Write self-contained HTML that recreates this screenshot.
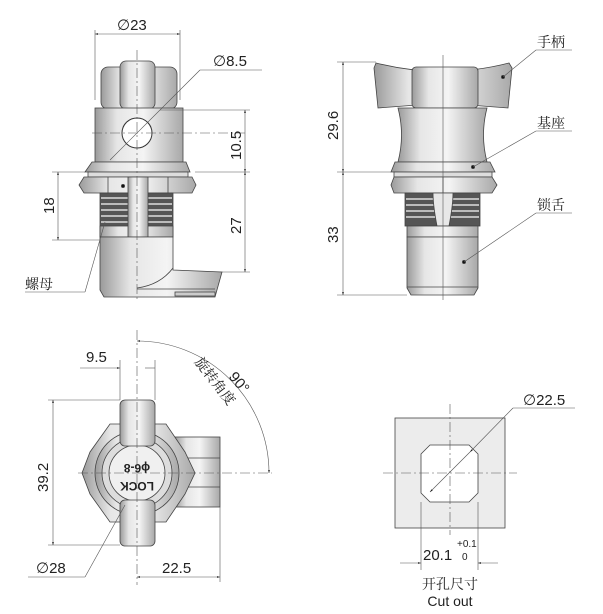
<!DOCTYPE html>
<html><head><meta charset="utf-8"><style>
html,body{margin:0;padding:0;background:#fff;}
svg{display:block;}
text{font-family:"Liberation Sans","DejaVu Sans","Noto Sans CJK SC",sans-serif;fill:#222;}
.cn{font-family:"Noto Serif CJK SC","Noto Sans CJK SC",serif;}
</style></head><body>
<svg width="603" height="614" viewBox="0 0 603 614" xmlns="http://www.w3.org/2000/svg">
<defs>
<linearGradient id="g" x1="0" x2="1" y1="0" y2="0">
<stop offset="0" stop-color="#9a9a9a"/><stop offset="0.25" stop-color="#e6e6e6"/><stop offset="0.55" stop-color="#f4f4f4"/><stop offset="1" stop-color="#a8a8a8"/>
</linearGradient>
<marker id="a" viewBox="0 0 10 10" refX="10" refY="5" markerWidth="7" markerHeight="5" orient="auto-start-reverse"><path d="M0,2 L10,5 L0,8z" fill="#222"/></marker>
</defs>
<g stroke="#444" stroke-width="0.8">
<!-- ===== Top-left view ===== -->
<rect x="101" y="67" width="76" height="42" rx="7" fill="url(#g)"/>
<rect x="120" y="61" width="35" height="48" rx="6" fill="url(#g)"/>
<rect x="95" y="108" width="88" height="54" fill="url(#g)"/>
<circle cx="137" cy="133" r="15" fill="#fff" stroke="#333" stroke-width="1"/>
<path d="M92,162 L186,162 L190,172 L85,172 Z" fill="url(#g)"/>
<rect x="88" y="172" width="100" height="5" fill="#ddd"/>
<path d="M84,177 L192,177 L196,185 L192,193 L84,193 L79,185 Z" fill="url(#g)"/>
<line x1="108" y1="177" x2="108" y2="193"/><line x1="168" y1="177" x2="168" y2="193"/>
<rect x="100" y="193" width="73" height="44" fill="#555"/>
<g stroke="#ddd" stroke-width="1.4">
<line x1="101" y1="198" x2="172" y2="198"/><line x1="101" y1="204" x2="172" y2="204"/><line x1="101" y1="210" x2="172" y2="210"/><line x1="101" y1="216" x2="172" y2="216"/><line x1="101" y1="222" x2="172" y2="222"/></g>
<rect x="100" y="226" width="73" height="11" fill="url(#g)"/>
<rect x="128" y="177" width="20" height="60" fill="url(#g)"/>
<path d="M100,237 L173,237 L173,270 L222,272 L215,297 L104,297 L100,290 Z" fill="url(#g)"/>
<path d="M137,288 Q160,285 173,268" fill="none"/>
<path d="M137,289 L215,289" fill="none"/>
<rect x="175" y="292" width="40" height="4" fill="#ccc"/>
<circle cx="123" cy="186" r="1.6" fill="#111"/>
</g>
<g stroke="#555" stroke-width="0.6" fill="none">
<line x1="137" y1="50" x2="137" y2="300" stroke-dasharray="10,3,2,3"/>
<line x1="92" y1="133" x2="245" y2="133" stroke-dasharray="10,3,2,3"/>
<line x1="95" y1="100" x2="95" y2="30"/><line x1="180" y1="100" x2="180" y2="30"/>
<line x1="95" y1="34" x2="180" y2="34" marker-start="url(#a)" marker-end="url(#a)"/>
<line x1="262" y1="70" x2="200" y2="70"/><line x1="200" y1="70" x2="110" y2="160"/>
<line x1="160" y1="110" x2="250" y2="110"/><line x1="195" y1="172" x2="250" y2="172"/><line x1="222" y1="272" x2="250" y2="272"/>
<line x1="245" y1="110" x2="245" y2="172" marker-start="url(#a)" marker-end="url(#a)"/>
<line x1="245" y1="172" x2="245" y2="272" marker-start="url(#a)" marker-end="url(#a)"/>
<line x1="52" y1="172" x2="85" y2="172"/><line x1="52" y1="240" x2="100" y2="240"/>
<line x1="58" y1="172" x2="58" y2="240" marker-start="url(#a)" marker-end="url(#a)"/>
<line x1="85" y1="292" x2="105" y2="222"/><line x1="25" y1="292" x2="85" y2="292"/>
</g>
<text x="117" y="30" font-size="15">∅23</text>
<text x="213" y="66" font-size="15">∅8.5</text>
<text x="0" y="0" font-size="15" transform="translate(241,160) rotate(-90)">10.5</text>
<text x="0" y="0" font-size="15" transform="translate(241,234) rotate(-90)">27</text>
<text x="0" y="0" font-size="15" transform="translate(54,214) rotate(-90)">18</text>
<text x="25" y="289" font-size="14" class="cn">螺母</text>

<!-- ===== Top-right view ===== -->
<g stroke="#444" stroke-width="0.8">
<path d="M376,63 Q443,80 509,63 L512,68 L508,108 L443,103 L378,108 L374,68 Z" fill="url(#g)"/>
<rect x="412" y="67" width="66" height="41" rx="4" fill="url(#g)"/>
<path d="M398,108 L487,108 Q480,135 487,162 L398,162 Q405,135 398,108 Z" fill="url(#g)"/>
<path d="M395,162 L490,162 L495,172 L391,172 Z" fill="url(#g)"/>
<rect x="394" y="172" width="98" height="5" fill="#ddd"/>
<path d="M394,177 L492,177 L497,185 L492,193 L394,193 L391,185 Z" fill="url(#g)"/>
<line x1="443" y1="177" x2="443" y2="193"/>
<rect x="405" y="193" width="75" height="33" fill="#555"/>
<g stroke="#ddd" stroke-width="1.4"><line x1="406" y1="199" x2="479" y2="199"/><line x1="406" y1="205" x2="479" y2="205"/><line x1="406" y1="211" x2="479" y2="211"/><line x1="406" y1="217" x2="479" y2="217"/></g>
<path d="M433,193 Q433,205 437,226 L449,226 Q453,205 453,193 Z" fill="#e8e8e8"/>
<rect x="407" y="226" width="71" height="11" fill="url(#g)"/>
<path d="M407,237 L478,237 L478,288 L474,295 L411,295 L407,288 Z" fill="url(#g)"/>
<line x1="407" y1="287" x2="478" y2="287"/>
<circle cx="503" cy="77" r="1.6" fill="#111"/><circle cx="473" cy="167" r="1.6" fill="#111"/><circle cx="464" cy="262" r="1.6" fill="#111"/>
</g>
<g stroke="#555" stroke-width="0.6" fill="none">
<line x1="443" y1="55" x2="443" y2="300"/>
<line x1="337" y1="62" x2="376" y2="62"/><line x1="337" y1="172" x2="391" y2="172"/><line x1="337" y1="295" x2="407" y2="295"/>
<line x1="343" y1="62" x2="343" y2="172" marker-start="url(#a)" marker-end="url(#a)"/>
<line x1="343" y1="172" x2="343" y2="295" marker-start="url(#a)" marker-end="url(#a)"/>
<line x1="503" y1="77" x2="536" y2="50"/><line x1="536" y1="50" x2="572" y2="50"/>
<line x1="473" y1="167" x2="536" y2="131"/><line x1="536" y1="131" x2="572" y2="131"/>
<line x1="464" y1="262" x2="536" y2="213"/><line x1="536" y1="213" x2="572" y2="213"/>
</g>
<text x="0" y="0" font-size="15" transform="translate(338,140) rotate(-90)">29.6</text>
<text x="0" y="0" font-size="15" transform="translate(338,243) rotate(-90)">33</text>
<text x="537" y="47" font-size="14" class="cn">手柄</text>
<text x="537" y="128" font-size="14" class="cn">基座</text>
<text x="537" y="210" font-size="14" class="cn">锁舌</text>

<!-- ===== Bottom-left view ===== -->
<g stroke="#444" stroke-width="0.8">
<rect x="175" y="437" width="45" height="70" fill="url(#g)"/>
<line x1="175" y1="458" x2="220" y2="458"/><line x1="175" y1="487" x2="220" y2="487"/>
<path d="M110,424 L166,424 L185,452 L195,473 L185,494 L166,522 L110,522 L90,494 L82,473 L90,452 Z" fill="url(#g)"/>
<circle cx="137" cy="473" r="42" fill="url(#g)"/>
<circle cx="137" cy="473" r="35" fill="#ddd"/>
<circle cx="137" cy="473" r="28" fill="#f0f0f0"/>
<rect x="120" y="400" width="35" height="46" rx="5" fill="url(#g)"/>
<rect x="120" y="500" width="35" height="46" rx="5" fill="url(#g)"/>
</g>
<text x="0" y="0" font-size="12" font-weight="bold" text-anchor="middle" transform="translate(137,464) rotate(180)">ϕ6-8</text>
<text x="0" y="0" font-size="12" font-weight="bold" text-anchor="middle" transform="translate(137,482) rotate(180)">LOCK</text>
<g stroke="#555" stroke-width="0.6" fill="none">
<line x1="137" y1="330" x2="137" y2="585" stroke-dasharray="10,3,2,3"/>
<line x1="78" y1="473" x2="272" y2="473" stroke-dasharray="10,3,2,3"/>
<line x1="120" y1="360" x2="120" y2="400"/><line x1="155" y1="360" x2="155" y2="400"/>
<line x1="80" y1="368" x2="120" y2="368" marker-end="url(#a)"/><line x1="155" y1="368" x2="145" y2="368"/>
<line x1="48" y1="400" x2="120" y2="400"/><line x1="48" y1="545" x2="120" y2="545"/>
<line x1="53" y1="400" x2="53" y2="545" marker-start="url(#a)" marker-end="url(#a)"/>
<line x1="28" y1="577" x2="85" y2="577"/><line x1="85" y1="577" x2="125" y2="505"/>
<line x1="220" y1="507" x2="220" y2="582"/>
<line x1="137" y1="577" x2="220" y2="577" marker-start="url(#a)" marker-end="url(#a)"/>
<path d="M137,341 A132,132 0 0 1 269,473" marker-start="url(#a)" marker-end="url(#a)"/>
</g>
<text x="86" y="362" font-size="15">9.5</text>
<text x="0" y="0" font-size="15" transform="translate(48,492) rotate(-90)">39.2</text>
<text x="36" y="573" font-size="15">∅28</text>
<text x="162" y="573" font-size="15">22.5</text>
<text x="0" y="0" font-size="15" transform="translate(228,377) rotate(50)">90°</text>
<text x="0" y="0" font-size="14" class="cn" transform="translate(194,362) rotate(52)">旋转角度</text>

<!-- ===== Cutout ===== -->
<g stroke="#444" stroke-width="0.8">
<rect x="395" y="418" width="110" height="110" fill="#ececec"/>
<path d="M430,445 L469,445 L478,454 L478,493 L469,502 L430,502 L421,493 L421,454 Z" fill="#fff"/>
</g>
<g stroke="#555" stroke-width="0.6" fill="none">
<line x1="383" y1="473" x2="517" y2="473" stroke-dasharray="10,3,2,3"/>
<line x1="450" y1="404" x2="450" y2="535" stroke-dasharray="10,3,2,3"/>
<line x1="575" y1="408" x2="513" y2="408"/><line x1="513" y1="408" x2="470" y2="452" marker-end="url(#a)"/>
<line x1="470" y1="452" x2="430" y2="492" marker-end="url(#a)"/>
<line x1="421" y1="502" x2="421" y2="570"/><line x1="478" y1="502" x2="478" y2="570"/>
<line x1="400" y1="563" x2="421" y2="563" marker-end="url(#a)"/><line x1="498" y1="563" x2="478" y2="563" marker-end="url(#a)"/>
</g>
<text x="423" y="560" font-size="15">20.1</text>
<text x="457" y="547" font-size="10">+0.1</text>
<text x="462" y="560" font-size="10">0</text>
<text x="523" y="405" font-size="15">∅22.5</text>
<text x="450" y="589" font-size="14" text-anchor="middle" class="cn">开孔尺寸</text>
<text x="450" y="606" font-size="14" text-anchor="middle">Cut out</text>
</svg>
</body></html>
